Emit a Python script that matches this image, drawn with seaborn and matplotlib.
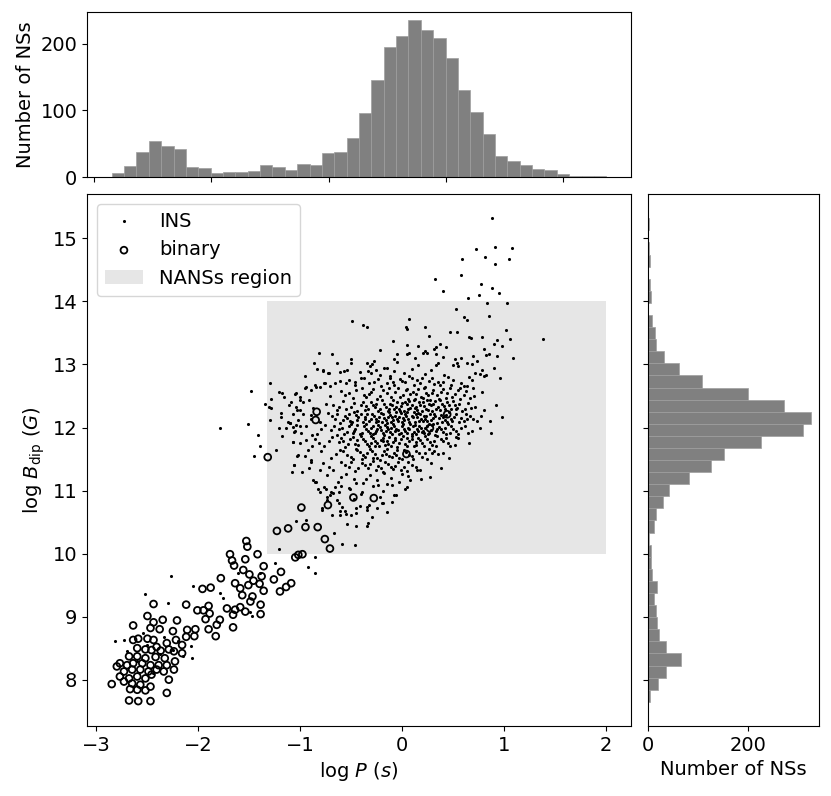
import numpy as np
import pandas as pd
import matplotlib
matplotlib.use("Agg")
import matplotlib.pyplot as plt
from matplotlib.patches import Rectangle
import seaborn as sns

### histogram counts (40 bins each)
p_min, p_max = -2.849, 1.369
p_counts = [6, 17, 38, 54, 47, 42, 15, 14, 6, 7, 7, 9, 18, 15, 11, 20, 18, 36, 37, 58,
            96, 146, 195, 212, 236, 221, 209, 178, 131, 97, 64, 31, 24, 18, 12, 10, 4, 2, 1, 1]
b_min, b_max = 7.648, 15.32
b_counts = [4, 20, 35, 66, 36, 21, 17, 15, 11, 17, 8, 5, 5, 2, 11, 15, 30, 42, 82, 127,
            152, 226, 310, 327, 273, 200, 108, 62, 32, 15, 13, 7, 0, 5, 3, 0, 3, 2, 0, 1]

### NANSs region
nans_p = (-1.33, 2.0)
nans_b = (10.0, 14.0)

### binaries (open circles)
binary_points = [
    (-1.53, 10.20), (-1.52, 10.11), (-1.69, 9.99), (-1.42, 9.99), (-1.67, 9.89), (-1.54, 9.91),
    (-1.65, 9.81), (-1.36, 9.80), (-1.56, 9.74), (-1.50, 9.67), (-1.38, 9.64), (-1.46, 9.57),
    (-1.78, 9.61), (-1.96, 9.44), (-1.88, 9.46), (-1.64, 9.53), (-1.59, 9.45), (-1.51, 9.50),
    (-1.40, 9.52), (-1.36, 9.41), (-1.57, 9.34), (-1.47, 9.32), (-1.49, 9.24), (-1.72, 9.13),
    (-1.64, 9.11), (-1.59, 9.15), (-1.54, 9.08), (-1.39, 9.19), (-1.39, 9.04), (-1.66, 9.03),
    (-1.79, 8.95), (-1.82, 8.87), (-1.66, 8.83), (-2.01, 9.10), (-1.95, 9.10), (-1.90, 9.17),
    (-1.89, 9.05), (-1.93, 8.96), (-1.90, 8.80), (-1.83, 8.69), (-2.12, 9.19), (-2.44, 9.20),
    (-2.50, 9.01), (-2.44, 8.91), (-2.35, 8.95), (-2.21, 8.94), (-2.64, 8.86), (-2.47, 8.82),
    (-2.38, 8.80), (-2.25, 8.77), (-2.11, 8.79), (-2.03, 8.80), (-2.12, 8.68), (-2.04, 8.69),
    (-2.64, 8.63), (-2.59, 8.65), (-2.50, 8.65), (-2.44, 8.63), (-2.31, 8.58), (-2.22, 8.63),
    (-2.16, 8.55), (-2.41, 8.52), (-2.60, 8.50), (-2.52, 8.48), (-2.46, 8.47), (-2.37, 8.46),
    (-2.29, 8.48), (-2.24, 8.45), (-2.16, 8.42), (-2.68, 8.37), (-2.60, 8.37), (-2.52, 8.34),
    (-2.42, 8.36), (-2.33, 8.34), (-2.77, 8.26), (-2.70, 8.23), (-2.64, 8.26), (-2.55, 8.26),
    (-2.47, 8.23), (-2.39, 8.23), (-2.31, 8.23), (-2.23, 8.29), (-2.80, 8.21), (-2.73, 8.13),
    (-2.65, 8.16), (-2.57, 8.16), (-2.49, 8.13), (-2.41, 8.16), (-2.34, 8.13), (-2.77, 8.05),
    (-2.68, 8.02), (-2.60, 8.05), (-2.52, 8.02), (-2.46, 8.08), (-2.24, 8.16), (-2.29, 8.00),
    (-2.85, 7.93), (-2.73, 7.97), (-2.65, 7.94), (-2.57, 7.92), (-2.47, 7.89), (-2.67, 7.85),
    (-2.60, 7.84), (-2.52, 7.83), (-2.31, 7.79), (-2.68, 7.67), (-2.59, 7.66), (-2.47, 7.66),
    (-1.32, 11.53), (-0.99, 10.73), (-0.73, 10.77), (-0.48, 10.89), (-0.28, 10.88),
    (-1.23, 10.36), (-1.12, 10.40), (-0.95, 10.42), (-0.83, 10.42), (-0.76, 10.23),
    (-0.71, 10.08), (-1.05, 9.94), (-1.02, 9.98), (-0.98, 9.99), (-1.19, 9.71),
    (-1.26, 9.59), (-1.09, 9.53), (-1.14, 9.47), (-1.20, 9.40),
    (-0.84, 12.25), (-0.85, 12.12), (0.44, 12.21), (0.27, 11.99), (0.04, 11.58),
]

### isolated INS read one by one
ins_sparse = [
    (0.88, 15.32), (0.72, 14.84), (0.91, 14.87), (1.08, 14.85), (0.59, 14.68), (0.81, 14.70),
    (1.05, 14.67), (0.91, 14.60), (0.58, 14.42), (0.32, 14.35), (0.77, 14.27), (0.88, 14.21),
    (0.95, 14.13), (0.40, 14.16), (0.75, 14.10), (0.64, 14.05), (0.83, 13.97), (1.03, 13.98),
    (0.53, 13.88), (0.85, 13.77), (0.60, 13.75), (0.63, 13.70), (0.07, 13.72), (0.04, 13.59),
    (0.05, 13.57), (0.22, 13.59), (0.47, 13.52), (0.54, 13.51), (1.02, 13.54), (0.26, 13.45),
    (0.65, 13.44), (0.67, 13.42), (0.78, 13.43), (0.93, 13.39), (1.06, 13.41), (1.38, 13.41),
    (0.90, 13.33), (0.98, 13.30), (0.05, 13.31), (0.15, 13.29), (0.37, 13.32), (0.43, 13.28),
    (0.33, 13.27), (0.80, 13.24), (0.22, 13.22), (0.24, 13.19), (0.07, 13.19), (0.05, 13.16),
    (0.31, 13.24), (0.33, 13.17), (0.40, 13.12), (0.82, 13.15), (0.85, 13.16), (0.69, 13.14),
    (0.93, 13.13), (1.09, 13.11), (0.58, 13.10), (0.73, 13.06), (0.63, 13.02), (0.68, 13.00),
    (0.90, 12.94), (0.50, 12.99), (0.54, 13.02), (0.78, 12.91), (0.82, 12.83), (0.80, 12.82),
    (0.96, 12.79), (0.76, 12.85), (0.71, 12.86), (0.65, 12.80), (0.68, 12.75), (0.60, 12.66),
    (0.57, 12.62), (0.69, 12.62),
    (-0.49, 13.69), (-0.39, 13.62), (-0.35, 13.59), (-0.09, 13.37), (-0.22, 13.23), (-0.82, 13.19),
    (-0.69, 13.16), (-0.50, 13.08), (-0.50, 13.02), (-0.87, 13.02), (-0.78, 12.91), (-0.64, 13.03),
    (-0.61, 12.88), (-0.57, 12.90), (-0.54, 12.91), (-0.95, 12.82), (-0.72, 12.86), (-0.35, 13.02),
    (-0.32, 12.98), (-0.34, 12.90), (-0.31, 12.86), (-0.26, 12.91), (-0.15, 12.94), (-0.08, 13.08),
    (-0.05, 13.04), (-0.22, 12.83), (-0.12, 12.78), (-0.09, 12.73),
    (-1.04, 12.54), (-1.00, 12.49), (-0.95, 12.62), (-0.90, 12.59), (-0.86, 12.67), (-0.81, 12.64),
    (-0.77, 12.70), (-0.71, 12.66), (-0.66, 12.70), (-0.61, 12.74), (-0.52, 12.75), (-0.46, 12.73),
    (-0.41, 12.79), (-1.09, 12.41), (-1.04, 12.33), (-0.97, 12.41), (-0.92, 12.44), (-1.00, 12.28),
    (-1.07, 12.22), (-1.10, 12.07), (-1.04, 12.04), (-1.06, 11.93), (-1.07, 11.77), (-1.02, 11.56),
    (-1.06, 11.40), (-0.98, 11.30), (-0.90, 11.46), (-0.89, 11.70), (-0.94, 11.80),
    (-0.85, 11.13), (-0.83, 11.02), (-0.77, 11.06), (-0.74, 10.90), (-0.68, 10.96), (-0.64, 10.85),
    (-0.59, 10.74), (-0.56, 10.68), (-0.51, 11.03), (-0.45, 11.12), (-0.40, 10.98), (-0.35, 10.74),
    (-0.24, 11.09), (-0.20, 10.80), (-0.10, 11.09), (-0.06, 10.93), (0.05, 11.06), (0.08, 11.17),
    (0.14, 11.33), (0.27, 11.22), (0.40, 11.59), (0.29, 11.59), (0.53, 11.85), (0.63, 12.14),
    (0.53, 12.29), (-0.45, 10.64), (-0.35, 10.69), (-0.61, 10.61), (-0.79, 10.69),
    (-0.84, 12.93), (-0.78, 12.90), (-0.73, 12.86), (-1.30, 12.70), (-1.48, 12.58), (-1.35, 12.38),
    (-1.29, 12.46), (-1.21, 12.56), (-1.18, 12.55), (-1.16, 12.49), (-1.31, 12.32), (-1.29, 12.31),
    (-1.19, 12.23), (-1.19, 12.16), (-1.30, 12.12), (-1.51, 12.05), (-1.79, 11.99), (-1.11, 12.36),
    (-1.05, 12.53), (-1.00, 12.44), (-0.94, 12.65), (-0.85, 12.64), (-0.76, 12.70),
    (-1.03, 12.28), (-0.97, 12.22), (-0.90, 12.14), (-1.12, 12.09), (-1.07, 12.01),
    (-1.42, 11.88), (-1.40, 11.70), (-1.45, 11.55), (-1.21, 10.07), (-0.93, 9.78), (-0.86, 9.70),
    (-0.86, 9.94), (-1.24, 11.65), (-1.08, 11.29), (-1.06, 11.40), (-1.03, 11.55), (-0.90, 11.48),
    (-0.93, 11.64), (-0.81, 11.33), (-0.86, 11.13), (-0.81, 10.98), (-0.75, 11.03), (-0.71, 10.93),
    (-0.66, 11.06), (-0.62, 10.98), (-0.69, 10.62), (-0.61, 10.67), (-0.55, 10.63), (-0.45, 10.72),
    (-0.25, 10.73), (-0.19, 10.81), (-0.54, 10.47), (-0.45, 10.44), (-0.35, 10.44),
    (-0.34, 10.48), (-0.67, 10.33), (-0.59, 10.15), (-0.46, 10.14), (-1.04, 10.51), (-0.94, 10.53),
    (-0.79, 10.72), (-0.74, 10.85), (-1.14, 12.00), (-1.18, 11.86), (-0.99, 11.91), (-0.89, 11.88),
    (-1.07, 11.77), (-0.82, 11.75), (-1.21, 12.00), (-1.10, 12.07), (-1.00, 12.02),
]

### INS that sit among the binaries (lower left)
ins_low = [
    (-2.27, 9.64), (-2.52, 9.36), (-2.30, 9.22), (-2.05, 9.48), (-1.79, 9.37), (-1.76, 9.29),
    (-2.82, 8.62), (-2.73, 8.63), (-2.06, 8.34), (-2.07, 8.53), (-1.47, 9.01), (-1.61, 9.70),
    (-1.49, 9.08), (-2.34, 8.68), (-2.54, 8.74), (-2.25, 8.47), (-2.60, 8.30), (-2.45, 8.10),
    (-2.38, 8.40), (-2.70, 8.45), (-2.20, 8.62), (-2.15, 8.38), (-2.50, 8.55), (-1.25, 9.85),
    (-1.40, 9.70),
]

### dense INS cloud, approximate positions
ins_core = [
    (-0.28, 13.05), (0.12, 13.11), (0.35, 13.03), (-0.05, 13.17), (0.52, 13.08), (0.20, 13.19),
    (-0.42, 12.88), (-0.18, 12.95), (0.02, 12.86), (0.15, 12.99), (0.28, 12.91), (0.41, 12.84),
    (0.09, 12.93), (-0.30, 13.00), (0.55, 12.97), (0.33, 12.99), (-0.08, 12.90), (0.22, 12.85),
    (-0.55, 12.70), (-0.38, 12.78), (-0.21, 12.66), (-0.12, 12.81), (0.03, 12.72), (0.11, 12.68),
    (0.19, 12.79), (0.26, 12.74), (0.37, 12.67), (0.45, 12.80), (0.58, 12.71), (-0.02, 12.77),
    (0.07, 12.82), (-0.28, 12.73), (0.31, 12.69), (0.14, 12.75), (-0.46, 12.68), (0.50, 12.76),
    (0.63, 12.66), (-0.15, 12.70), (0.22, 12.65), (0.40, 12.73),
    (-0.71, 12.50), (-0.60, 12.58), (-0.48, 12.47), (-0.40, 12.62), (-0.33, 12.53), (-0.25, 12.45),
    (-0.19, 12.59), (-0.11, 12.49), (-0.04, 12.63), (0.01, 12.52), (0.06, 12.46), (0.10, 12.57),
    (0.15, 12.61), (0.18, 12.49), (0.23, 12.55), (0.27, 12.44), (0.30, 12.60), (0.34, 12.51),
    (0.38, 12.57), (0.43, 12.47), (0.47, 12.62), (0.52, 12.53), (0.57, 12.45), (0.62, 12.58),
    (0.70, 12.50), (0.78, 12.56), (-0.52, 12.55), (-0.15, 12.54), (0.04, 12.59), (0.12, 12.45),
    (0.21, 12.63), (0.36, 12.46), (0.44, 12.55), (-0.07, 12.56), (-0.29, 12.61), (0.25, 12.51),
    (0.08, 12.53), (0.55, 12.60), (-0.36, 12.48), (0.66, 12.47),
    (-0.88, 12.31), (-0.75, 12.38), (-0.64, 12.28), (-0.58, 12.42), (-0.50, 12.33), (-0.44, 12.26),
    (-0.39, 12.40), (-0.34, 12.30), (-0.29, 12.36), (-0.24, 12.27), (-0.20, 12.43), (-0.16, 12.32),
    (-0.12, 12.38), (-0.08, 12.29), (-0.05, 12.41), (-0.01, 12.34), (0.02, 12.26), (0.05, 12.37),
    (0.08, 12.31), (0.11, 12.43), (0.14, 12.28), (0.17, 12.35), (0.20, 12.40), (0.23, 12.30),
    (0.26, 12.37), (0.29, 12.27), (0.32, 12.42), (0.35, 12.33), (0.39, 12.38), (0.42, 12.29),
    (0.46, 12.36), (0.50, 12.42), (0.54, 12.31), (0.59, 12.26), (0.64, 12.39), (0.71, 12.33),
    (0.80, 12.28), (0.92, 12.36), (-0.68, 12.35), (-0.47, 12.39), (-0.27, 12.32), (-0.14, 12.26),
    (-0.03, 12.30), (0.07, 12.42), (0.13, 12.33), (0.19, 12.27), (0.28, 12.35), (0.37, 12.28),
    (0.44, 12.41), (0.52, 12.35), (-0.10, 12.35), (0.00, 12.39), (0.24, 12.43), (-0.36, 12.34),
    (0.61, 12.30),
    (-1.02, 12.12), (-0.90, 12.20), (-0.81, 12.09), (-0.73, 12.23), (-0.66, 12.14), (-0.61, 12.07),
    (-0.56, 12.19), (-0.51, 12.11), (-0.47, 12.24), (-0.43, 12.16), (-0.39, 12.08), (-0.35, 12.21),
    (-0.31, 12.13), (-0.28, 12.18), (-0.24, 12.10), (-0.21, 12.23), (-0.18, 12.15), (-0.15, 12.07),
    (-0.12, 12.20), (-0.09, 12.12), (-0.06, 12.24), (-0.03, 12.17), (0.00, 12.09), (0.03, 12.21),
    (0.06, 12.14), (0.09, 12.19), (0.12, 12.08), (0.15, 12.23), (0.18, 12.13), (0.21, 12.18),
    (0.24, 12.10), (0.27, 12.22), (0.30, 12.15), (0.34, 12.07), (0.38, 12.20), (0.42, 12.12),
    (0.46, 12.24), (0.51, 12.16), (0.56, 12.09), (0.62, 12.21), (0.69, 12.13), (0.77, 12.19),
    (0.86, 12.10), (0.98, 12.17), (-0.54, 12.15), (-0.37, 12.13), (-0.26, 12.14), (-0.14, 12.17),
    (-0.04, 12.11), (0.05, 12.24), (0.10, 12.16), (0.16, 12.10), (0.22, 12.14), (0.32, 12.19),
    (0.40, 12.16), (0.49, 12.10), (-0.69, 12.18), (-0.20, 12.09), (0.01, 12.15), (0.13, 12.21),
    (0.26, 12.06), (-0.10, 12.16), (0.44, 12.08), (-0.45, 12.20), (0.58, 12.15),
    (-1.05, 11.95), (-0.94, 12.02), (-0.84, 11.90), (-0.76, 12.04), (-0.70, 11.96), (-0.64, 11.88),
    (-0.59, 12.00), (-0.54, 11.93), (-0.50, 12.05), (-0.46, 11.97), (-0.42, 11.89), (-0.38, 12.02),
    (-0.34, 11.94), (-0.31, 12.00), (-0.27, 11.91), (-0.24, 12.04), (-0.21, 11.96), (-0.18, 11.88),
    (-0.15, 12.01), (-0.12, 11.93), (-0.09, 12.05), (-0.06, 11.98), (-0.03, 11.90), (0.00, 12.02),
    (0.03, 11.95), (0.06, 12.00), (0.09, 11.89), (0.12, 12.04), (0.15, 11.94), (0.18, 11.99),
    (0.21, 11.91), (0.24, 12.03), (0.28, 11.96), (0.32, 11.88), (0.36, 12.01), (0.40, 11.93),
    (0.45, 12.05), (0.50, 11.97), (0.55, 11.90), (0.61, 12.02), (0.68, 11.95), (0.76, 11.99),
    (0.87, 11.92), (-0.62, 11.98), (-0.48, 11.91), (-0.36, 11.97), (-0.25, 11.98), (-0.16, 11.95),
    (-0.07, 11.94), (0.02, 11.98), (0.08, 12.05), (0.14, 11.97), (0.20, 11.95), (0.26, 11.92),
    (0.34, 11.98), (0.42, 11.99), (-0.80, 11.97), (-0.29, 11.89), (-0.11, 12.00), (0.11, 11.93),
    (0.30, 12.05), (0.47, 11.92),
    (-1.00, 11.75), (-0.86, 11.82), (-0.77, 11.71), (-0.69, 11.85), (-0.62, 11.77), (-0.56, 11.69),
    (-0.51, 11.81), (-0.46, 11.74), (-0.41, 11.86), (-0.37, 11.78), (-0.33, 11.70), (-0.29, 11.83),
    (-0.25, 11.75), (-0.21, 11.80), (-0.17, 11.72), (-0.13, 11.85), (-0.09, 11.77), (-0.05, 11.69),
    (-0.01, 11.82), (0.03, 11.74), (0.07, 11.79), (0.11, 11.71), (0.15, 11.84), (0.19, 11.76),
    (0.24, 11.81), (0.29, 11.73), (0.34, 11.86), (0.40, 11.78), (0.47, 11.70), (0.55, 11.83),
    (0.65, 11.75), (-0.58, 11.79), (-0.44, 11.80), (-0.31, 11.76), (-0.19, 11.78), (-0.07, 11.80),
    (0.05, 11.84), (0.13, 11.77), (0.21, 11.70), (-0.72, 11.78), (-0.27, 11.71), (0.09, 11.86),
    (0.31, 11.79), (-0.14, 11.74), (0.43, 11.84),
    (-0.95, 11.55), (-0.80, 11.62), (-0.70, 11.51), (-0.61, 11.65), (-0.54, 11.57), (-0.48, 11.50),
    (-0.42, 11.61), (-0.37, 11.54), (-0.32, 11.66), (-0.27, 11.58), (-0.22, 11.49), (-0.18, 11.63),
    (-0.13, 11.55), (-0.08, 11.60), (-0.03, 11.52), (0.02, 11.65), (0.07, 11.57), (0.13, 11.62),
    (0.19, 11.53), (0.26, 11.66), (0.35, 11.58), (0.46, 11.52), (-0.65, 11.58), (-0.45, 11.66),
    (-0.29, 11.52), (-0.16, 11.58), (-0.05, 11.64), (0.10, 11.50), (-0.39, 11.56), (0.22, 11.60),
    (-0.92, 11.36), (-0.78, 11.43), (-0.68, 11.32), (-0.60, 11.46), (-0.52, 11.38), (-0.46, 11.31),
    (-0.40, 11.44), (-0.34, 11.35), (-0.29, 11.47), (-0.24, 11.39), (-0.19, 11.30), (-0.14, 11.42),
    (-0.09, 11.34), (-0.04, 11.45), (0.02, 11.37), (0.09, 11.41), (0.17, 11.33), (0.28, 11.44),
    (-0.56, 11.41), (-0.37, 11.40), (-0.21, 11.36), (-0.07, 11.39), (0.05, 11.31), (-0.72, 11.38),
    (0.38, 11.36),
    (-0.88, 11.17), (-0.74, 11.24), (-0.63, 11.13), (-0.55, 11.27), (-0.47, 11.19), (-0.39, 11.12),
    (-0.32, 11.25), (-0.25, 11.16), (-0.18, 11.28), (-0.11, 11.20), (-0.03, 11.14), (0.06, 11.23),
    (0.18, 11.18), (-0.60, 11.21), (-0.36, 11.19), (-0.15, 11.11), (0.00, 11.27),
    (-0.70, 10.97), (-0.52, 11.04), (-0.41, 10.94), (-0.29, 11.07), (-0.19, 10.99), (-0.08, 10.93),
    (0.03, 11.02), (-0.60, 11.08), (-0.62, 10.80), (-0.47, 10.86), (-0.33, 10.77), (-0.22, 10.89),
    (-0.10, 10.82), (-0.42, 10.75), (-0.50, 10.62), (-0.30, 10.58), (-0.15, 10.66),
]

### extra points filling the darkest part of the cloud
ins_center = [
    (-0.56, 12.52), (-0.45, 12.60), (-0.38, 12.51), (-0.31, 12.57), (-0.22, 12.50), (-0.13, 12.62),
    (-0.02, 12.48), (0.05, 12.61), (0.13, 12.53), (0.20, 12.47), (0.29, 12.54), (0.40, 12.61),
    (0.49, 12.49), (0.60, 12.52),
    (-0.62, 12.33), (-0.55, 12.29), (-0.41, 12.35), (-0.37, 12.28), (-0.31, 12.41), (-0.26, 12.38),
    (-0.22, 12.29), (-0.18, 12.37), (-0.13, 12.30), (-0.09, 12.43), (-0.06, 12.33), (-0.02, 12.27),
    (0.03, 12.40), (0.06, 12.29), (0.09, 12.36), (0.12, 12.31), (0.16, 12.41), (0.21, 12.34),
    (0.25, 12.28), (0.30, 12.38), (0.33, 12.30), (0.37, 12.43), (0.41, 12.34), (0.48, 12.29),
    (0.56, 12.38), (0.67, 12.31),
    (-0.64, 12.21), (-0.58, 12.12), (-0.52, 12.22), (-0.49, 12.08), (-0.44, 12.12), (-0.41, 12.22),
    (-0.37, 12.17), (-0.33, 12.10), (-0.30, 12.22), (-0.26, 12.08), (-0.23, 12.17), (-0.19, 12.21),
    (-0.16, 12.12), (-0.13, 12.24), (-0.11, 12.08), (-0.07, 12.18), (-0.05, 12.13), (-0.01, 12.23),
    (0.02, 12.12), (0.04, 12.18), (0.07, 12.09), (0.11, 12.24), (0.14, 12.16), (0.17, 12.21),
    (0.20, 12.10), (0.23, 12.19), (0.28, 12.12), (0.31, 12.22), (0.36, 12.15), (0.39, 12.09),
    (0.43, 12.20), (0.48, 12.14), (0.53, 12.22), (0.60, 12.11), (0.66, 12.18), (0.73, 12.10),
    (-0.67, 12.03), (-0.57, 11.90), (-0.52, 12.02), (-0.47, 11.94), (-0.44, 12.04), (-0.40, 11.92),
    (-0.36, 12.05), (-0.32, 11.91), (-0.29, 12.03), (-0.26, 11.94), (-0.22, 12.01), (-0.19, 11.92),
    (-0.17, 12.04), (-0.14, 11.97), (-0.10, 11.90), (-0.08, 12.02), (-0.04, 11.96), (-0.01, 11.91),
    (0.01, 12.05), (0.05, 11.92), (0.07, 11.97), (0.10, 12.02), (0.13, 11.90), (0.16, 12.03),
    (0.19, 11.93), (0.22, 11.99), (0.25, 11.89), (0.29, 12.04), (0.33, 11.94), (0.38, 11.97),
    (0.43, 11.89), (0.48, 12.03), (0.53, 11.95), (0.58, 12.00), (0.64, 11.92),
    (-0.60, 11.84), (-0.53, 11.74), (-0.48, 11.85), (-0.43, 11.72), (-0.39, 11.81), (-0.35, 11.74),
    (-0.31, 11.86), (-0.27, 11.79), (-0.23, 11.71), (-0.19, 11.84), (-0.15, 11.79), (-0.11, 11.70),
    (-0.07, 11.83), (-0.03, 11.76), (0.01, 11.86), (0.05, 11.71), (0.09, 11.81), (0.13, 11.73),
    (0.17, 11.80), (0.22, 11.86), (0.27, 11.77), (0.33, 11.71), (0.38, 11.82), (0.45, 11.76),
    (0.52, 11.72),
    (-0.58, 11.62), (-0.50, 11.53), (-0.44, 11.64), (-0.40, 11.50), (-0.35, 11.59), (-0.30, 11.63),
    (-0.25, 11.51), (-0.20, 11.56), (-0.15, 11.66), (-0.10, 11.53), (-0.06, 11.57), (0.00, 11.50),
    (0.04, 11.61), (0.09, 11.55), (0.16, 11.59), (0.24, 11.50), (0.31, 11.63),
    (-0.33, 12.70), (-0.24, 12.77), (-0.08, 12.67), (0.00, 12.74), (0.09, 12.78), (0.17, 12.70),
    (0.29, 12.79), (0.35, 12.72), (0.48, 12.68),
    (-0.50, 11.45), (-0.43, 11.36), (-0.32, 11.42), (-0.26, 11.33), (-0.17, 11.46), (-0.11, 11.38),
    (-0.01, 11.33), (0.06, 11.45), (0.13, 11.37),
]

ins = pd.DataFrame(ins_sparse + ins_low + ins_core + ins_center, columns=["logP", "logB"])
binary = pd.DataFrame(binary_points, columns=["logP", "logB"])

p_step = (p_max - p_min) / len(p_counts)
b_step = (b_max - b_min) / len(b_counts)
p_hist = pd.DataFrame({"logP": p_min + p_step * (np.arange(len(p_counts)) + 0.5), "n": p_counts})
b_hist = pd.DataFrame({"logB": b_min + b_step * (np.arange(len(b_counts)) + 0.5), "n": b_counts})

sns.set_style("ticks")
plt.rcParams["font.family"] = ["DejaVu Sans"]
plt.rcParams["font.size"] = 14
plt.rcParams["axes.labelsize"] = 14
plt.rcParams["xtick.labelsize"] = 14
plt.rcParams["ytick.labelsize"] = 14
plt.rcParams["axes.edgecolor"] = "black"
plt.rcParams["axes.labelcolor"] = "black"
plt.rcParams["text.color"] = "black"
plt.rcParams["xtick.color"] = "black"
plt.rcParams["ytick.color"] = "black"

fig = plt.figure(figsize=(8.31, 7.96), dpi=100)
ax = fig.add_axes([0.1047, 0.0879, 0.6546, 0.6683])
ax_top = fig.add_axes([0.1047, 0.7776, 0.6546, 0.2073])
ax_right = fig.add_axes([0.7800, 0.0879, 0.2058, 0.6683], sharey=ax)

rect = Rectangle((nans_p[0], nans_b[0]), nans_p[1] - nans_p[0], nans_b[1] - nans_b[0],
                 facecolor="0.9", edgecolor="none", zorder=0, label="NANSs region")
ax.add_patch(rect)

sns.scatterplot(data=ins, x="logP", y="logB", ax=ax, s=5, color="black",
                linewidth=0, label="INS", zorder=2)
sns.scatterplot(data=binary, x="logP", y="logB", ax=ax, s=24, facecolor="none",
                edgecolor="black", linewidth=1.3, label="binary", zorder=3)

ax.set_xticks([-3, -2, -1, 0, 1, 2])
ax.set_yticks([8, 9, 10, 11, 12, 13, 14, 15])
ax.set_xlabel("log $P$ ($s$)")
ax.set_ylabel("log $B_{\\rm dip}$ ($G$)")

handles, labels = ax.get_legend_handles_labels()
order = [labels.index("INS"), labels.index("binary"), labels.index("NANSs region")]
ax.legend([handles[i] for i in order], [labels[i] for i in order],
          loc="upper left", frameon=True, fontsize=14)

sns.histplot(data=p_hist, x="logP", weights="n", bins=len(p_counts),
             binrange=(p_min, p_max), ax=ax_top,
             color="0.5", alpha=1, edgecolor="0.62", linewidth=0.5)
ax_top.set_ylabel("Number of NSs")
ax_top.set_xlabel("")
ax_top.set_xticks([-3, -2, -1, 0, 1])
ax_top.set_yticks([0, 100, 200])
ax_top.tick_params(labelbottom=False)

sns.histplot(data=b_hist, y="logB", weights="n", bins=len(b_counts),
             binrange=(b_min, b_max), ax=ax_right,
             color="0.5", alpha=1, edgecolor="0.62", linewidth=0.5)
ax_right.set_xlabel("Number of NSs")
ax_right.set_ylabel("")
ax_right.set_xticks([0, 200])
ax_right.tick_params(labelleft=False)

fig.savefig("out.png", dpi=100)
